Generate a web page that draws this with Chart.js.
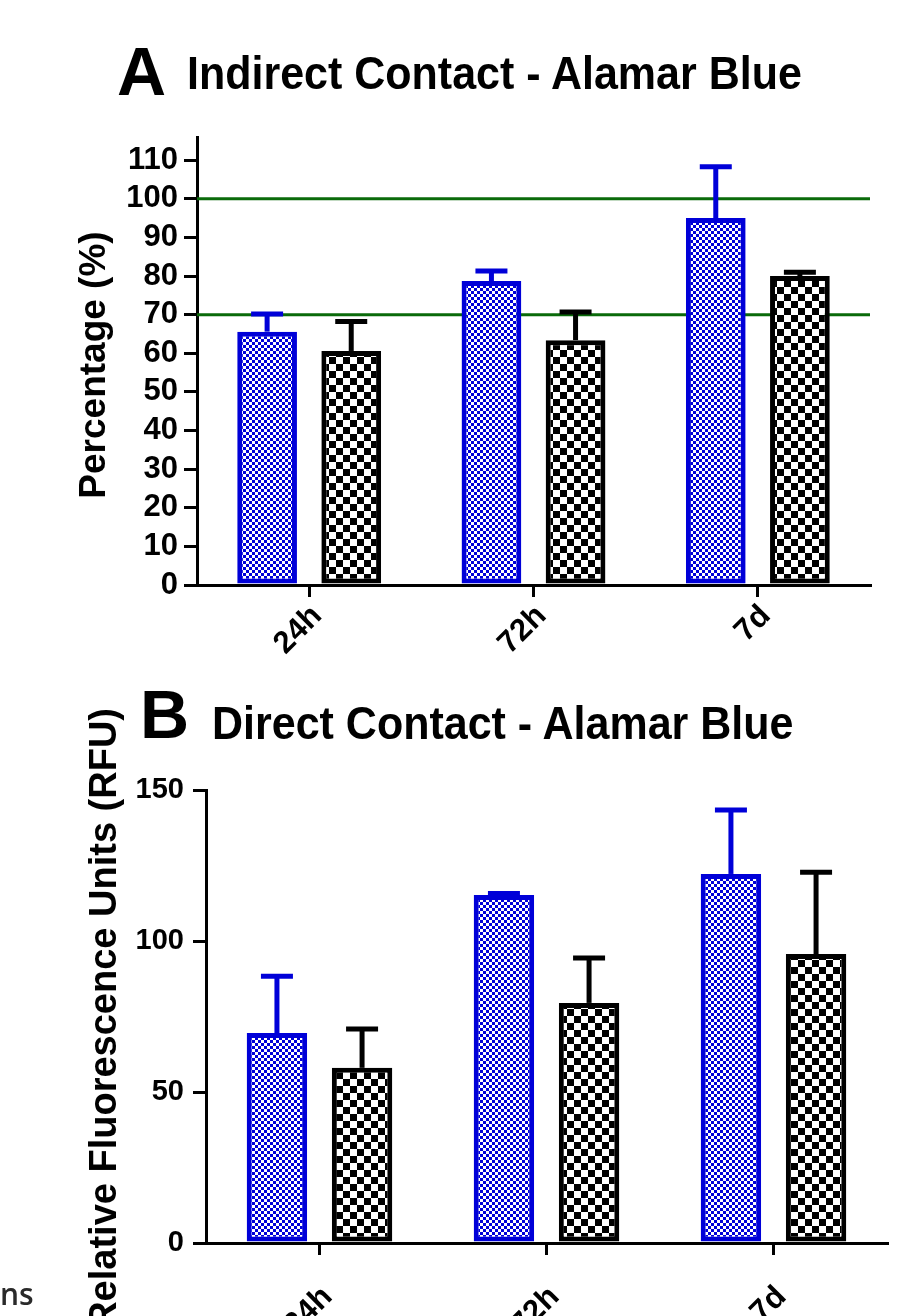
<!DOCTYPE html>
<html>
<head>
<meta charset="utf-8">
<script src="https://cdn.jsdelivr.net/npm/chart.js@4.4.1/dist/chart.umd.min.js"></script>
<style>
  html, body { margin: 0; padding: 0; width: 919px; height: 1316px; overflow: hidden; background: #fff; }
  .lbl { position: absolute; font-family: "Liberation Sans", Arial, sans-serif; font-weight: bold; color: #000; white-space: nowrap; line-height: 1; }
  .rot { transform: rotate(-90deg); transform-origin: left top; line-height: 40px; }
  canvas { position: absolute; left: 0; }
</style>
</head>
<body>
<canvas id="chartA" width="919" height="680" style="top:0"></canvas>
<canvas id="chartB" width="919" height="700" style="top:680px"></canvas>

<div class="lbl" style="left:117px;top:37px;font-size:68px">A</div>
<div class="lbl" style="left:187px;top:50px;font-size:43px;transform:scaleY(1.08);transform-origin:left top">Indirect Contact - Alamar Blue</div>
<div class="lbl rot" style="left:73px;top:565px;width:400px;text-align:center;font-size:37px">Percentage (%)</div>

<div class="lbl" style="left:140px;top:680px;font-size:68px">B</div>
<div class="lbl" style="left:212px;top:700px;font-size:43px;transform:scaleY(1.08);transform-origin:left top">Direct Contact - Alamar Blue</div>
<div class="lbl rot" style="left:83px;top:1408px;width:700px;text-align:right;font-size:38px">Relative Fluorescence Units (RFU)</div>

<div style="position:absolute;left:0;top:1279px;font-family:'Open Sans',sans-serif;font-weight:600;font-size:30px;color:#2a2a2a;line-height:1">ns</div>

<script>
// time points
const categories = ['24h', '72h', '7d'];

// A: indirect contact, percentage
const indirectBlue = [65.6, 78.7, 95.0];
const indirectBlueSd = [4.6, 2.6, 13.3];
const indirectBlack = [60.6, 63.4, 80.0];
const indirectBlackSd = [7.6, 7.3, 1.0];
const refLinesA = [70, 100];
const yTicksA = [0, 10, 20, 30, 40, 50, 60, 70, 80, 90, 100, 110];

// B: direct contact, RFU
const directBlue = [69.5, 115.2, 122.2];
const directBlueSd = [18.8, 0.5, 21.2];
const directBlack = [58.0, 79.5, 95.7];
const directBlackSd = [12.9, 14.9, 27.1];
const yTicksB = [0, 50, 100, 150];

const BLUE = '#0000d8';
const GREEN = '#0a6a0a';

function checker(c1, c2, size) {
  const p = document.createElement('canvas');
  p.width = size * 2;
  p.height = size * 2;
  const g = p.getContext('2d');
  g.fillStyle = c2;
  g.fillRect(0, 0, size * 2, size * 2);
  g.fillStyle = c1;
  g.fillRect(0, 0, size, size);
  g.fillRect(size, size, size, size);
  return g.createPattern(p, 'repeat');
}

const errorBars = {
  id: 'errorBars',
  afterDatasetsDraw(chart) {
    const ctx = chart.ctx;
    const y = chart.scales.y;
    chart.data.datasets.forEach((ds, i) => {
      const meta = chart.getDatasetMeta(i);
      meta.data.forEach((bar, j) => {
        const top = y.getPixelForValue(ds.data[j] + ds.sd[j]);
        ctx.save();
        ctx.strokeStyle = ds.borderColor;
        ctx.lineWidth = 5;
        ctx.beginPath();
        ctx.moveTo(bar.x, bar.y);
        ctx.lineTo(bar.x, top);
        ctx.stroke();
        ctx.beginPath();
        ctx.moveTo(bar.x - 16, top);
        ctx.lineTo(bar.x + 16, top);
        ctx.stroke();
        ctx.restore();
      });
    });
  }
};

const refLines = {
  id: 'refLines',
  beforeDatasetsDraw(chart, args, opts) {
    if (!opts.values) return;
    const ctx = chart.ctx;
    const area = chart.chartArea;
    ctx.save();
    ctx.strokeStyle = GREEN;
    ctx.lineWidth = 3;
    opts.values.forEach(v => {
      const py = chart.scales.y.getPixelForValue(v);
      ctx.beginPath();
      ctx.moveTo(area.left, py);
      ctx.lineTo(area.right, py);
      ctx.stroke();
    });
    ctx.restore();
  }
};

function makeChart(id, opt) {
  const ctx = document.getElementById(id).getContext('2d');
  return new Chart(ctx, {
    type: 'bar',
    data: {
      labels: categories,
      datasets: [{
        data: opt.blue,
        sd: opt.blueSd,
        backgroundColor: checker(BLUE, '#ffffff', 3),
        borderColor: BLUE,
        borderWidth: 5,
        borderSkipped: false
      }, {
        data: opt.black,
        sd: opt.blackSd,
        backgroundColor: checker('#000000', '#ffffff', 7),
        borderColor: '#000000',
        borderWidth: 5,
        borderSkipped: false
      }]
    },
    options: {
      responsive: false,
      animation: false,
      events: [],
      layout: { padding: { left: 0, top: opt.top, right: opt.right, bottom: 0 } },
      datasets: { bar: { categoryPercentage: 0.75, barPercentage: 0.71 } },
      plugins: {
        legend: { display: false },
        tooltip: { enabled: false },
        refLines: { values: opt.refs }
      },
      scales: {
        x: {
          afterFit: s => { s.height = opt.xHeight; },
          border: { display: true, color: '#000', width: 3 },
          grid: { display: true, drawOnChartArea: false, offset: false, tickLength: 12, lineWidth: 3, color: '#000' },
          ticks: {
            autoSkip: false, minRotation: 45, maxRotation: 45, padding: opt.xPad, labelOffset: 8, color: '#000',
            font: { family: 'Liberation Sans', weight: 'bold', size: 31 }
          }
        },
        y: {
          min: 0,
          max: opt.max,
          afterFit: s => { s.width = opt.left; },
          afterBuildTicks: s => { s.ticks = opt.ticks.map(v => ({ value: v })); },
          border: { display: true, color: '#000', width: 3 },
          grid: { display: true, drawOnChartArea: false, tickLength: 13, lineWidth: 3, color: '#000' },
          ticks: {
            padding: opt.tickPad, color: '#000',
            font: { family: 'Liberation Sans', weight: 'bold', size: opt.tickSize }
          }
        }
      }
    },
    plugins: [refLines, errorBars]
  });
}

makeChart('chartA', {
  blue: indirectBlue, blueSd: indirectBlueSd,
  black: indirectBlack, blackSd: indirectBlackSd,
  refs: refLinesA, ticks: yTicksA, max: 116,
  top: 137, right: 49, left: 197, xHeight: 95, xPad: 1, tickPad: 6, tickSize: 31
});

makeChart('chartB', {
  blue: directBlue, blueSd: directBlueSd,
  black: directBlack, blackSd: directBlackSd,
  refs: null, ticks: yTicksB, max: 150,
  top: 110, right: 32, left: 206, xHeight: 137, xPad: 24, tickPad: 9, tickSize: 29
});
</script>
</body>
</html>
